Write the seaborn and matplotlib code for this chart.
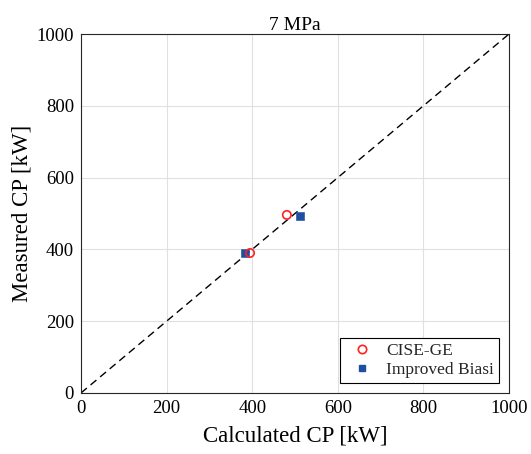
import matplotlib
matplotlib.use("Agg")
import matplotlib.pyplot as plt
import seaborn as sns
import pandas as pd
from matplotlib.lines import Line2D

cise_calc = [395, 481]
cise_meas = [390, 496]
biasi_calc = [383, 512]
biasi_meas = [390, 494]
ticks = [0, 200, 400, 600, 800, 1000]

sns.set_theme(style="white")
plt.rcParams['font.family'] = ['Liberation Serif', 'DejaVu Serif']

red = "#ff2020"
blue = "#1f4fa0"
df_c = pd.DataFrame({"calc": cise_calc, "meas": cise_meas})
df_b = pd.DataFrame({"calc": biasi_calc, "meas": biasi_meas})

fig = plt.figure(figsize=(5.31, 4.54), dpi=100)
ax = fig.add_axes([0.1525, 0.1344, 0.8061, 0.7907])
ax.plot([0, 1000], [0, 1000], ls=(0, (5.5, 3.5)), color="black", lw=1.0, zorder=1)
sns.scatterplot(data=df_b, x="calc", y="meas", marker="s", color=blue,
                edgecolor=blue, s=28, ax=ax, zorder=3, legend=False)
sns.scatterplot(data=df_c, x="calc", y="meas", marker="o", facecolor="none",
                edgecolor=red, linewidth=1.2, s=36, ax=ax, zorder=4, legend=False)

ax.set_xlim(0, 1000)
ax.set_ylim(0, 1000)
ax.set_xticks(ticks)
ax.set_yticks(ticks)
ax.grid(True, color="#e0e0e0", lw=0.8)
ax.tick_params(direction="in", length=3, labelsize=13.5, colors="black", width=0.6, pad=5)
for sp in ax.spines.values():
    sp.set_color("#262626")
    sp.set_linewidth(0.8)
ax.set_xlabel("Calculated CP [kW]", fontsize=16.5, color="black", labelpad=6)
ax.set_ylabel("Measured CP [kW]", fontsize=16.5, color="black", labelpad=3)
ax.set_title("7 MPa", fontsize=14, color="black", pad=3)

handles = [Line2D([], [], marker="o", ls="none", mfc="none", mec=red, ms=6, mew=1.2),
           Line2D([], [], marker="s", ls="none", mfc=blue, mec=blue, ms=5)]
leg = ax.legend(handles, ["CISE-GE", "Improved Biasi"], loc="lower right", fontsize=12.5,
                frameon=True, fancybox=False, edgecolor="black", framealpha=1,
                borderaxespad=0.6, handletextpad=0.4, borderpad=0.25, labelspacing=0.2)
leg.get_frame().set_linewidth(0.8)
fig.savefig("out.png", dpi=100)
